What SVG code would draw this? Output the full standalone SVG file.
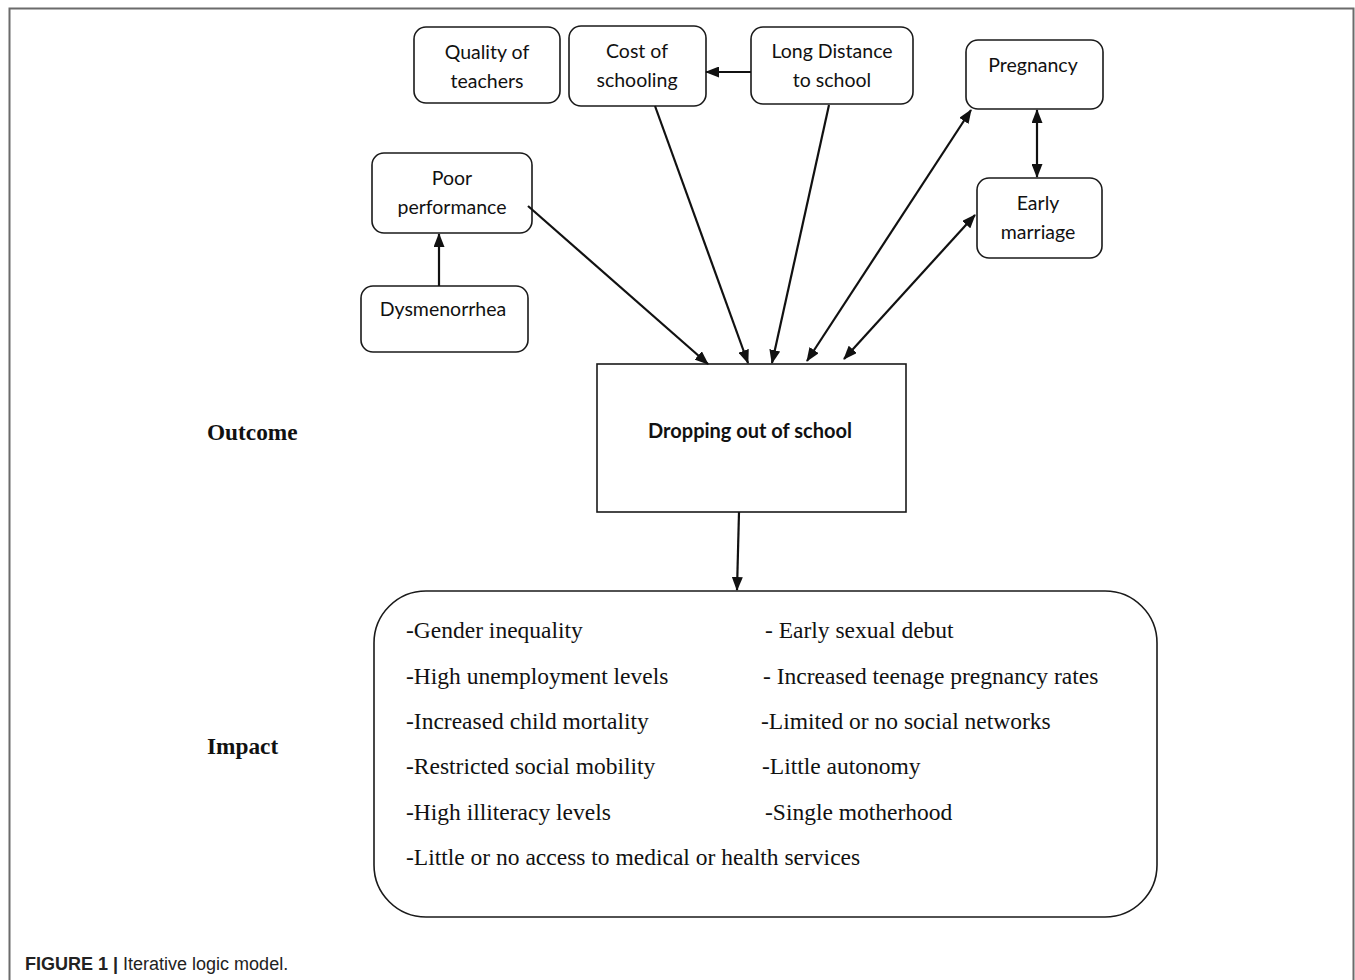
<svg xmlns="http://www.w3.org/2000/svg" width="1355" height="980" viewBox="0 0 1355 980">
<style>
.frame{fill:none;stroke:#6b6b6b;stroke-width:2}
.box{fill:#fff;stroke:#1a1a1a;stroke-width:1.6}
.lbl{font-family:Lato,"Noto Sans",sans-serif;font-size:19.5px;fill:#111;text-anchor:middle}
.lblb{font-family:Lato,"Noto Sans",sans-serif;font-size:20px;font-weight:bold;fill:#111;text-anchor:middle}
.imp{font-family:"Liberation Serif","Times New Roman",serif;font-size:23.5px;fill:#111}
.side{font-family:"Liberation Serif","Times New Roman",serif;font-size:23.3px;font-weight:bold;fill:#111}
.cap{font-family:"Liberation Sans",Arial,sans-serif;font-size:18px;fill:#222}
.ln{fill:none;stroke:#111;stroke-width:2.2}
</style>
<defs>
<marker id="ah" viewBox="0 0 14 11" refX="13" refY="5.5" markerWidth="14" markerHeight="11" markerUnits="userSpaceOnUse" orient="auto-start-reverse">
<path d="M0,0 L14,5.5 L0,11 z" fill="#111"/>
</marker>
</defs>
<path class="frame" d="M9.5,990 V8.5 H1353.5 V990"/>

<g id="node-quality">
<rect class="box" x="414" y="27" width="146" height="76" rx="12"/>
<text class="lbl" x="487" y="59">Quality of</text>
<text class="lbl" x="487" y="88">teachers</text>
</g>
<g id="node-cost">
<rect class="box" x="569" y="26" width="137" height="80" rx="12"/>
<text class="lbl" x="637" y="58">Cost of</text>
<text class="lbl" x="637" y="87">schooling</text>
</g>
<g id="node-distance">
<rect class="box" x="751" y="27" width="162" height="77" rx="12"/>
<text class="lbl" x="832" y="58">Long Distance</text>
<text class="lbl" x="832" y="87">to school</text>
</g>
<g id="node-pregnancy">
<rect class="box" x="966" y="40" width="137" height="69" rx="12"/>
<text class="lbl" x="1033" y="72">Pregnancy</text>
</g>
<g id="node-marriage">
<rect class="box" x="977" y="178" width="125" height="80" rx="12"/>
<text class="lbl" x="1038" y="210">Early</text>
<text class="lbl" x="1038" y="239">marriage</text>
</g>
<g id="node-poor">
<rect class="box" x="372" y="153" width="160" height="80" rx="12"/>
<text class="lbl" x="452" y="185">Poor</text>
<text class="lbl" x="452" y="214">performance</text>
</g>
<g id="node-dysmenorrhea">
<rect class="box" x="361" y="286" width="167" height="66" rx="12"/>
<text class="lbl" x="443" y="316">Dysmenorrhea</text>
</g>
<g id="node-dropping">
<rect class="box" x="597" y="364" width="309" height="148"/>
<text class="lblb" x="750" y="438">Dropping out of school</text>
</g>
<g id="node-impact">
<rect class="box" x="374" y="591" width="783" height="326" rx="52"/>
<text class="imp" x="406" y="638">-Gender inequality</text>
<text class="imp" x="406" y="684">-High unemployment levels</text>
<text class="imp" x="406" y="729">-Increased child mortality</text>
<text class="imp" x="406" y="774">-Restricted social mobility</text>
<text class="imp" x="406" y="820">-High illiteracy levels</text>
<text class="imp" x="406" y="865">-Little or no access to medical or health services</text>
<text class="imp" x="765" y="638">- Early sexual debut</text>
<text class="imp" x="763" y="684">- Increased teenage pregnancy rates</text>
<text class="imp" x="761" y="729">-Limited or no social networks</text>
<text class="imp" x="762" y="774">-Little autonomy</text>
<text class="imp" x="765" y="820">-Single motherhood</text>
</g>
<g id="labels">
<text class="side" x="207" y="440">Outcome</text>
<text class="side" x="207" y="754">Impact</text>
<text class="cap" x="25" y="970"><tspan font-weight="bold">FIGURE 1 |</tspan> Iterative logic model.</text>
</g>
<g id="connectors">
<line class="ln" x1="751" y1="72" x2="706" y2="72" marker-end="url(#ah)"/>
<line class="ln" x1="655" y1="106" x2="748" y2="363" marker-end="url(#ah)"/>
<line class="ln" x1="829" y1="105" x2="772" y2="363" marker-end="url(#ah)"/>
<line class="ln" x1="807" y1="361" x2="971" y2="110" marker-start="url(#ah)" marker-end="url(#ah)"/>
<line class="ln" x1="844" y1="359" x2="975" y2="215" marker-start="url(#ah)" marker-end="url(#ah)"/>
<line class="ln" x1="1037" y1="110" x2="1037" y2="177" marker-start="url(#ah)" marker-end="url(#ah)"/>
<line class="ln" x1="528" y1="206" x2="708" y2="364" marker-end="url(#ah)"/>
<line class="ln" x1="439" y1="286" x2="439" y2="234" marker-end="url(#ah)"/>
<line class="ln" x1="739" y1="512" x2="737" y2="590" marker-end="url(#ah)"/>
</g>
</svg>
